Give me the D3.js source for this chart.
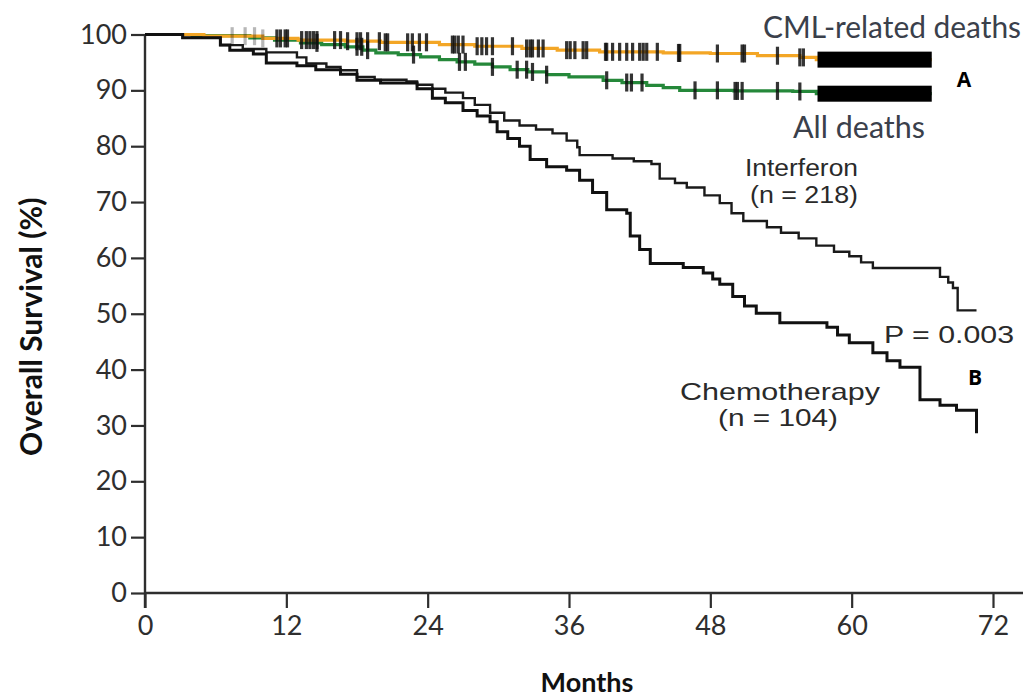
<!DOCTYPE html>
<html>
<head>
<meta charset="utf-8">
<script src="https://cdn.jsdelivr.net/npm/d3@7"></script>
<style>
  body { margin: 0; background: #fff; }
  svg { display: block; }
</style>
</head>
<body>
<div id="chart"></div>
<script>
// Kaplan-Meier steps: [month, overall survival %]
const cmlDeaths = [[0,100],[5,99.7],[10,99.3],[13,99.0],[17,98.8],[20,98.6],[25,98.2],[28,97.9],[32,97.5],[35,97.2],[38.6,96.9],[44,96.7],[48,96.6],[52,96.2],[55.6,95.9],[57,95.5],[66.8,95.5]];
const allDeaths = [[0,100],[4,99.8],[8.9,99.4],[11,99.0],[13.2,98.5],[15,98.2],[17,97.8],[18.5,97.2],[19.6,96.7],[21.5,96.4],[23.4,96.0],[25,95.5],[26.5,95.1],[28,94.7],[29.5,94.2],[31,93.7],[32.5,93.3],[34.1,92.8],[36,92.4],[38.9,91.8],[40.5,91.4],[42.6,90.9],[44,90.5],[45.4,90.0],[50,89.9],[55,89.8],[57,89.4],[66.8,89.4]];
const interferon = [[0,100],[3.2,99.4],[6.4,98.1],[8.3,97.4],[10.3,96.8],[12.9,95.9],[13.7,94.8],[15.4,94.2],[16.6,93.6],[18,92.4],[19.5,91.9],[22.2,91.6],[23.1,91.0],[24.4,90.3],[25.5,89.6],[27,88.6],[28,87.4],[29.3,86.0],[30.5,84.6],[31.8,83.7],[33.2,83.0],[34.6,82.3],[35.8,81.0],[36.7,79.8],[36.9,78.4],[39.7,77.8],[41.5,77.3],[43,76.8],[43.7,74.2],[45,73.4],[46,72.6],[47.5,71.2],[48.8,69.8],[49.8,68.0],[50.8,66.6],[52.8,65.5],[54,64.5],[55.5,63.5],[57,62.2],[58.5,61.1],[59.8,60.3],[60.8,59.2],[61.8,58.2],[66.6,58.2],[67.5,56.6],[68.2,55.6],[68.6,54.6],[69,50.6],[70.6,50.6]];
const chemotherapy = [[0,100],[3.2,99.4],[6.4,98.1],[7.2,97.2],[9.2,96.5],[10.3,94.9],[12.9,94.4],[14.5,93.7],[16.6,92.9],[18,91.8],[20,91.3],[23.1,90.3],[24.4,88.6],[25.5,87.8],[27,86.4],[28.2,85.4],[29.3,84.4],[29.9,82.6],[30.8,81.4],[31.8,80.0],[32.7,77.6],[34.1,76.3],[35.8,75.7],[36.9,73.9],[38,71.7],[39.2,68.6],[40.9,68.0],[41.2,63.9],[42,61.5],[42.9,59.0],[45.7,58.3],[47.4,57.3],[48.2,56.2],[48.8,55.3],[49.9,53.1],[50.9,51.4],[51.9,50.1],[53.9,48.4],[57.9,47.6],[58.8,46.2],[59.8,44.8],[61.8,43.0],[63,41.6],[64.1,40.4],[65.8,34.6],[67.5,33.6],[68.9,32.7],[70.6,32.2],[70.6,28.6]];

// censored patients (months)
const cmlFaintCensors = [7.4, 8.5, 9.3, 10.0];
const cmlCensors = [11.2,11.5,11.9,12.1,13.3,13.7,14.0,14.3,14.6,16.1,16.6,17.2,18.0,18.3,18.9,19.9,20.4,20.6,22.3,22.7,23.3,23.9,26.1,26.3,26.6,27.0,28.2,28.6,29.0,29.5,31.2,32.4,32.7,32.9,33.4,33.8,35.8,36.1,36.5,37.2,37.5,39.1,39.2,39.7,40.3,40.9,41.4,42.0,42.3,42.6,43.5,45.3,45.4,48.6,50.7,50.9,53.7,55.6,55.9];
const allCensors = [14.6,18.0,18.4,18.9,22.8,26.7,27.2,29.5,31.6,32.4,32.9,34.1,39.2,40.9,41.3,42.2,46.7,48.6,50.1,50.3,50.7,53.7,55.6];
const censorBand = [57.1, 66.8]; // censored so densely they merge into a bar

const xTicks = [0, 12, 24, 36, 48, 60, 72];
const yTicks = [0, 10, 20, 30, 40, 50, 60, 70, 80, 90, 100];

const width = 1023, height = 699;
const svg = d3.select("#chart").append("svg")
  .attr("width", width)
  .attr("height", height);

const x = d3.scaleLinear().domain([0, 72]).range([145, 993]);
const y = d3.scaleLinear().domain([0, 100]).range([593, 34.5]);

const axisColor = "#2e2e2e";
const tickFont = "Lato, 'Open Sans', sans-serif";

// axes
const xAxis = svg.append("g")
  .attr("transform", `translate(0,${y(0)})`)
  .call(d3.axisBottom(x).tickValues(xTicks).tickSize(15).tickPadding(8).tickSizeOuter(0));
const yAxis = svg.append("g")
  .attr("transform", `translate(${x(0)},0)`)
  .call(d3.axisLeft(y).tickValues(yTicks).tickSize(14).tickPadding(4).tickSizeOuter(0));

[xAxis, yAxis].forEach(g => {
  g.select(".domain").remove();
  g.selectAll("line").attr("stroke", axisColor).attr("stroke-width", 2.2);
  g.selectAll("text")
    .attr("fill", axisColor)
    .style("font-family", tickFont)
    .style("font-size", "27px");
});

// axis lines: y runs down past zero, x runs to the right edge
svg.append("line")
  .attr("x1", x(0)).attr("x2", x(0))
  .attr("y1", y(100)).attr("y2", y(0) + 15)
  .attr("stroke", axisColor).attr("stroke-width", 2.4);
svg.append("line")
  .attr("x1", x(0)).attr("x2", width)
  .attr("y1", y(0)).attr("y2", y(0))
  .attr("stroke", axisColor).attr("stroke-width", 2.4);

// axis titles
svg.append("text")
  .attr("transform", `translate(42,${(y(100) + y(0)) / 2 + 13}) rotate(-90)`)
  .attr("text-anchor", "middle")
  .style("font-family", tickFont)
  .style("font-size", "30px")
  .style("font-weight", "bold")
  .attr("fill", "#111")
  .text("Overall Survival (%)");

svg.append("text")
  .attr("x", 587).attr("y", 692)
  .attr("text-anchor", "middle")
  .style("font-family", tickFont)
  .style("font-size", "27px")
  .style("font-weight", "bold")
  .attr("fill", "#111")
  .text("Months");

// survival curves
const line = d3.line()
  .x(d => x(d[0]))
  .y(d => y(d[1]))
  .curve(d3.curveStepAfter);

function drawCurve(data, color, w) {
  svg.append("path")
    .datum(data)
    .attr("fill", "none")
    .attr("stroke", color)
    .attr("stroke-width", w)
    .attr("d", line);
}

drawCurve(allDeaths, "#25883a", 3.2);
drawCurve(cmlDeaths, "#f3a626", 3.2);
drawCurve(interferon, "#1a1a1a", 2.4);
drawCurve(chemotherapy, "#111", 3);

// value of a step curve at month t
function valueAt(data, t) {
  let v = data[0][1];
  data.forEach(d => { if (d[0] <= t) v = d[1]; });
  return v;
}

function drawCensors(data, times, opacity) {
  svg.append("g")
    .selectAll("rect")
    .data(times)
    .join("rect")
    .attr("x", t => x(t) - 1.6)
    .attr("y", t => y(valueAt(data, t)) - 9)
    .attr("width", 3.2)
    .attr("height", 18)
    .attr("fill", "#111")
    .attr("opacity", opacity);
}

drawCensors(cmlDeaths, cmlFaintCensors, 0.3);
drawCensors(cmlDeaths, cmlCensors, 0.85);
drawCensors(allDeaths, allCensors, 0.85);

[cmlDeaths, allDeaths].forEach(data => {
  const v = valueAt(data, censorBand[0]);
  svg.append("rect")
    .attr("x", x(censorBand[0]))
    .attr("y", y(v) - 8)
    .attr("width", x(censorBand[1]) - x(censorBand[0]))
    .attr("height", 16)
    .attr("fill", "#000");
});

// labels
const nejmFont = "Lato, 'Open Sans', sans-serif";
const plotFont = "'Liberation Sans', Arial, sans-serif";

function label(txt, px, py, opts) {
  const t = svg.append("text")
    .attr("x", px).attr("y", py)
    .attr("text-anchor", opts.anchor || "start")
    .style("font-family", opts.font)
    .style("font-size", opts.size + "px")
    .style("font-weight", opts.weight || "normal")
    .attr("fill", opts.color)
    .text(txt);
  if (opts.len) t.attr("textLength", opts.len).attr("lengthAdjust", "spacingAndGlyphs");
  return t;
}

label("CML-related deaths", 1021, 38, { anchor: "end", font: nejmFont, size: 30, color: "#3a404b", len: 258 });
label("All deaths", 793, 138, { font: nejmFont, size: 30, color: "#3a404b", len: 132 });
label("A", 964, 87, { anchor: "middle", font: "'Open Sans', sans-serif", size: 21, weight: "bold", color: "#000" });
label("B", 975, 385, { anchor: "middle", font: "'Open Sans', sans-serif", size: 21, weight: "bold", color: "#000" });

label("Interferon", 745, 176, { font: plotFont, size: 23, color: "#2a2a2a", len: 113 });
label("(n = 218)", 750, 203, { font: plotFont, size: 23, color: "#2a2a2a", len: 108 });
label("P = 0.003", 884, 343, { font: plotFont, size: 24, color: "#2a2a2a", len: 130 });
label("Chemotherapy", 680, 400, { font: plotFont, size: 24, color: "#2a2a2a", len: 200 });
label("(n = 104)", 718, 426, { font: plotFont, size: 24, color: "#2a2a2a", len: 120 });
</script>
</body>
</html>
